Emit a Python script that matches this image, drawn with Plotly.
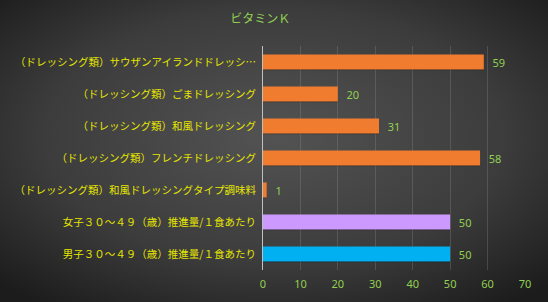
import base64
import plotly.graph_objects as go

categories = [
    "（ドレッシング類）サウザンアイランドドレッシ…",
    "（ドレッシング類）ごまドレッシング",
    "（ドレッシング類）和風ドレッシング",
    "（ドレッシング類）フレンチドレッシング",
    "（ドレッシング類）和風ドレッシングタイプ調味料",
    "女子３０～４９（歳）推進量/１食あたり",
    "男子３０～４９（歳）推進量/１食あたり",
]
values = [59, 20, 31, 58, 1, 50, 50]
bar_colors = ["#f07c30", "#f07c30", "#f07c30", "#f07c30", "#f07c30", "#cc99ff", "#00b0f0"]
title = "ビタミンＫ"

W, H = 548, 302
L, R, T, B = 263, 23, 46, 32
pw, ph = W - L - R, H - T - B

svg = f'''<svg xmlns="http://www.w3.org/2000/svg" width="{W}" height="{H}" viewBox="0 0 {W} {H}">
<defs><radialGradient id="g" cx="50%" cy="45%" r="70%">
<stop offset="0" stop-color="#535353"/><stop offset="0.6" stop-color="#3c3c3c"/><stop offset="1" stop-color="#1c1c1c"/>
</radialGradient></defs><rect width="{W}" height="{H}" fill="url(#g)"/></svg>'''
src = "data:image/svg+xml;base64," + base64.b64encode(svg.encode()).decode()

fig = go.Figure()
# shadow
fig.add_trace(go.Bar(
    y=categories[::-1], x=values[::-1], orientation="h",
    marker=dict(color="rgba(0,0,0,0.35)", line=dict(width=0)),
    width=0.47, offset=-0.26, hoverinfo="skip", showlegend=False,
))
fig.add_trace(go.Bar(
    y=categories[::-1], x=values[::-1], orientation="h",
    marker=dict(color=bar_colors[::-1], line=dict(width=0)),
    width=0.47, offset=-0.235,
    text=["  " + str(v) for v in values[::-1]], textposition="outside",
    textfont=dict(color="#92d050", size=11, family="Noto Sans"),
    cliponaxis=False, showlegend=False,
))
fig.update_layout(
    width=W, height=H, barmode="overlay",
    margin=dict(l=L, r=R, t=T, b=B),
    paper_bgcolor="#333333", plot_bgcolor="rgba(0,0,0,0)",
    title=dict(text=title, x=0.475, xanchor="center", y=1 - 19 / H, yanchor="middle",
               font=dict(color="#92d050", size=12, family="Noto Sans CJK JP")),
    images=[dict(source=src, xref="paper", yref="paper",
                 x=-L / pw, y=1 + T / ph, sizex=W / pw, sizey=H / ph,
                 sizing="stretch", layer="below", xanchor="left", yanchor="top")],
    xaxis=dict(range=[0, 70], dtick=10, showgrid=True, gridcolor="rgba(150,150,150,0.28)",
               gridwidth=1, zeroline=False, showline=False,
               tickfont=dict(color="#92d050", size=11, family="Noto Sans"), ticks="",
               ticklabelstandoff=6),
    yaxis=dict(showline=True, linecolor="#c0c0c0", linewidth=1, ticks="", showgrid=False,
               tickfont=dict(color="#e6e600", size=10.5, family="Noto Sans CJK JP"),
               ticklabelstandoff=4),
    bargap=0.5,
)
fig.write_html("out.html")
